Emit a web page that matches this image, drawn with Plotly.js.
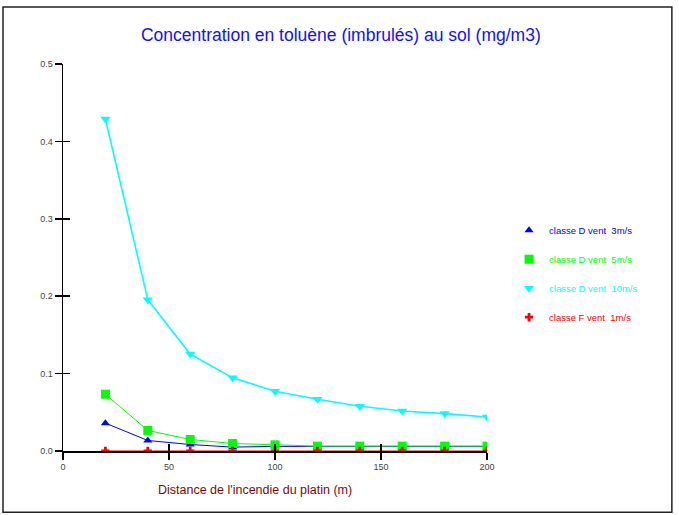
<!DOCTYPE html>
<html>
<head>
<meta charset="utf-8">
<script src="https://cdn.plot.ly/plotly-3.0.1.min.js"></script>
<style>html,body{margin:0;padding:0;background:#fff}#chart{width:679px;height:515px}</style>
</head>
<body>
<div id="chart"></div>
<script>
// Data
var distances = [20, 40, 60, 80, 100, 120, 140, 160, 180, 200];
var seriesNames = ["classe D vent  3m/s", "classe D vent  5m/s", "classe D vent  10m/s", "classe F vent  1m/s"];
var classeD3 = [0.036, 0.0136, 0.0084, 0.005, 0.006, 0.006, 0.006, 0.006, 0.006, 0.006];
var classeD5 = [0.0734, 0.0266, 0.0149, 0.0097, 0.008, 0.0063, 0.0063, 0.0063, 0.0063, 0.0063];
var classeD10 = [0.429, 0.1955, 0.1253, 0.0945, 0.0773, 0.0669, 0.0578, 0.0517, 0.0483, 0.0439];
var classeF1 = [0, 0, 0, 0, 0, 0, 0, 0, 0, 0];
var xTickVals = [0, 50, 100, 150, 200];
var yTickVals = [0, 0.1, 0.2, 0.3, 0.4, 0.5];

var colors = ["#0000ff", "#00ff00", "#00ffff", "#ff0000"];
var symbols = ["triangle-up", "square", "triangle-down", "cross"];
var sizes = [8, 9, 9, 7];
var widths = [1, 1, 1.6, 1];
var allY = [classeD3, classeD5, classeD10, classeF1];

var traces = [];
for (var i = 0; i < allY.length; i++) {
  traces.push({
    x: distances, y: allY[i], mode: "lines", type: "scatter",
    line: {color: colors[i], width: widths[i]}, showlegend: false, hoverinfo: "skip"
  });
}
for (var j = 0; j < allY.length; j++) {
  traces.push({
    x: distances, y: allY[j], mode: "markers", type: "scatter",
    name: '<span style="color:' + colors[j] + '">' + seriesNames[j] + '</span>',
    marker: {color: colors[j], symbol: symbols[j], size: sizes[j]},
    legendgroup: "g" + j
  });
}

var tickFont = {family: "Liberation Sans, Arial, sans-serif", size: 9, color: "#444"};
var layout = {
  width: 679, height: 515,
  margin: {l: 63, r: 192, t: 64, b: 64},
  paper_bgcolor: "#fff", plot_bgcolor: "#fff",
  font: {family: "Liberation Sans, Arial, sans-serif"},
  title: {
    text: "Concentration en toluène (imbrulés) au sol (mg/m3)",
    font: {family: "Liberation Sans, Arial, sans-serif", size: 17.5, color: "#1010ff"},
    xref: "container", yref: "container", x: 0.502, y: 0.932, xanchor: "center", yanchor: "middle"
  },
  xaxis: {
    range: [0, 200], tickvals: xTickVals, ticktext: xTickVals.map(String),
    showgrid: false, zeroline: false, showline: true, linecolor: "#000", linewidth: 1.5,
    ticks: "outside", ticklen: 7, tickwidth: 1.5, tickcolor: "#000",
    tickfont: tickFont, layer: "above traces", fixedrange: true
  },
  yaxis: {
    range: [0, 0.5], tickvals: yTickVals, tickformat: ".1f",
    showgrid: false, zeroline: false, showline: true, linecolor: "#000", linewidth: 1.5,
    ticks: "outside", ticklen: 7, tickwidth: 1.5, tickcolor: "#000",
    tickfont: tickFont, layer: "above traces", fixedrange: true
  },
  xaxis2: {
    overlaying: "x", anchor: "y", range: [0, 200], tickvals: xTickVals,
    showticklabels: false, showgrid: false, zeroline: false, showline: false,
    ticks: "inside", ticklen: 7, tickwidth: 1.5, tickcolor: "#000", layer: "above traces"
  },
  yaxis2: {
    overlaying: "y", anchor: "x", range: [0, 0.5], tickvals: yTickVals,
    showticklabels: false, showgrid: false, zeroline: false, showline: false,
    ticks: "inside", ticklen: 7, tickwidth: 1.5, tickcolor: "#000", layer: "above traces"
  },
  legend: {
    x: 1.052, y: 0.608, xanchor: "left", yanchor: "top",
    font: {family: "Liberation Sans, Arial, sans-serif", size: 9.5},
    traceorder: "grouped", tracegroupgap: 10, itemwidth: 30,
    bgcolor: "rgba(0,0,0,0)"
  },
  annotations: [{
    text: "Distance de l'incendie du platin (m)", xref: "paper", yref: "paper",
    x: 0.453, y: -0.101, xanchor: "center", yanchor: "middle", showarrow: false,
    font: {family: "Liberation Sans, Arial, sans-serif", size: 12.5, color: "#7a0a0a"}
  }],
  shapes: [{
    type: "rect", xref: "paper", yref: "paper",
    x0: -0.1415, x1: 1.436, y0: -0.158, y1: 1.147,
    line: {color: "#222", width: 1.5}, fillcolor: "rgba(0,0,0,0)", layer: "below"
  }]
};
// dummy trace so the overlay tick axes get drawn
traces.push({x: [null], y: [null], xaxis: "x2", yaxis: "y2", showlegend: false, hoverinfo: "skip", mode: "markers"});

Plotly.newPlot("chart", traces, layout, {displayModeBar: false, staticPlot: true});
</script>
</body>
</html>
